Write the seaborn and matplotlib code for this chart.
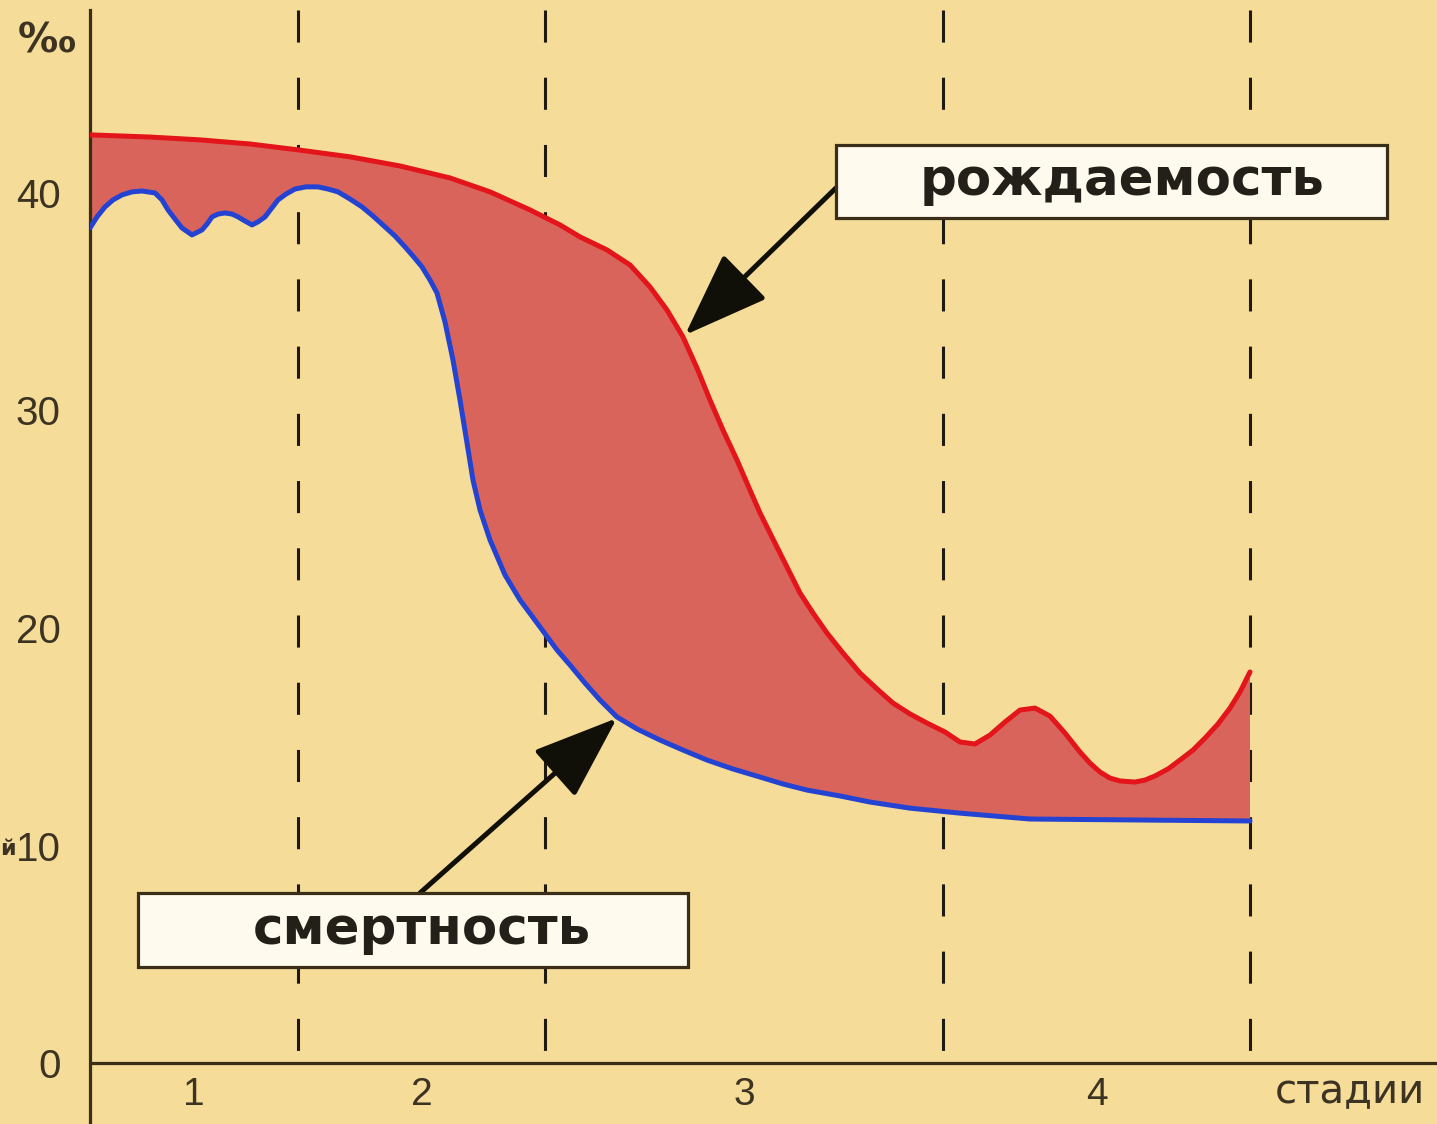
import numpy as np
import matplotlib
matplotlib.use("Agg")
import matplotlib.pyplot as plt
from matplotlib.patches import Rectangle, FancyArrowPatch
import seaborn as sns

# Birth rate curve (per mille) over time, arbitrary time units
birth_t = [0.00, 0.60, 1.10, 1.60, 2.08, 2.60, 3.10, 3.60, 4.00, 4.40, 4.70, 4.90,
           5.17, 5.40, 5.60, 5.77, 5.93, 6.07, 6.20, 6.33, 6.47, 6.60, 6.70, 6.87,
           7.10, 7.23, 7.37, 7.53, 7.70, 7.87, 8.03, 8.20, 8.37, 8.55, 8.70, 8.85,
           9.00, 9.15, 9.30, 9.45, 9.60, 9.75, 9.90, 10.00, 10.10, 10.20, 10.30,
           10.45, 10.55, 10.65, 10.78, 10.90, 11.03, 11.15, 11.28, 11.40, 11.50, 11.60]
birth_rate = [42.67, 42.57, 42.44, 42.25, 41.98, 41.66, 41.24, 40.69, 40.05, 39.22,
              38.53, 37.98, 37.38, 36.69, 35.68, 34.62, 33.38, 31.95, 30.48, 29.10,
              27.72, 26.34, 25.29, 23.72, 21.61, 20.69, 19.77, 18.85, 17.93, 17.20,
              16.55, 16.05, 15.63, 15.22, 14.76, 14.67, 15.08, 15.68, 16.23, 16.32,
              15.95, 15.17, 14.30, 13.79, 13.38, 13.10, 12.97, 12.92, 13.01, 13.20,
              13.52, 13.93, 14.39, 14.94, 15.59, 16.32, 17.06, 17.98]

# Death rate curve (per mille)
death_t = [0.00, 0.07, 0.15, 0.23, 0.32, 0.42, 0.52, 0.65, 0.72, 0.78, 0.85, 0.92,
           1.02, 1.12, 1.17, 1.22, 1.28, 1.35, 1.42, 1.48, 1.55, 1.62, 1.68, 1.75,
           1.81, 1.88, 1.96, 2.05, 2.16, 2.28, 2.38, 2.48, 2.60, 2.72, 2.83, 2.95,
           3.05, 3.15, 3.23, 3.32, 3.40, 3.47, 3.55, 3.63, 3.70, 3.77, 3.83, 3.90,
           4.00, 4.15, 4.30, 4.50, 4.67, 4.80, 4.95, 5.10, 5.27, 5.47, 5.70, 5.93,
           6.17, 6.43, 6.70, 6.93, 7.17, 7.50, 7.80, 8.20, 8.70, 9.40, 10.60, 11.60]
death_rate = [38.39, 38.90, 39.36, 39.68, 39.91, 40.05, 40.09, 40.00, 39.68, 39.22,
              38.80, 38.39, 38.07, 38.30, 38.57, 38.90, 39.03, 39.08, 39.03, 38.90,
              38.71, 38.53, 38.67, 38.90, 39.26, 39.68, 39.95, 40.18, 40.28, 40.28,
              40.18, 40.05, 39.72, 39.36, 38.94, 38.44, 38.02, 37.52, 37.10, 36.60,
              36.00, 35.40, 34.07, 32.32, 30.48, 28.51, 26.80, 25.43, 24.05, 22.44,
              21.29, 20.05, 18.99, 18.30, 17.47, 16.69, 15.91, 15.36, 14.85, 14.39,
              13.93, 13.52, 13.15, 12.83, 12.55, 12.28, 12.00, 11.72, 11.49, 11.22,
              11.17, 11.13]

# Boundaries between the demographic transition stages
stage_bounds = [0.00, 2.08, 4.55, 8.53, 11.60]
stage_labels = ["1", "2", "3", "4"]
y_ticks = [0, 10, 20, 30, 40]

BG = "#F5DC98"
INK = "#3A2E18"
TXT = "#3C3322"
RED = "#E3141A"
BLUE = "#2443D2"
FILL = "#D9645C"

sns.set_style("white")
plt.rcParams["font.family"] = ["DejaVu Sans"]

fig = plt.figure(figsize=(14.37, 11.24), dpi=100, facecolor=BG)
ax = fig.add_axes([90 / 1437, 0.0, 1 - 90 / 1437, 1 - 10 / 1124])
ax.set_facecolor(BG)
ax.set_xlim(0, 13.47)
ax.set_ylim(-2.80, 48.41)

# dashed stage separators
for b in stage_bounds[1:]:
    ax.plot([b, b], [48.41, 0], color="#1E1A12", lw=2.2,
            dashes=(10.5, 11.5), zorder=1, dash_capstyle="butt")

# natural increase area between the two curves
poly_x = np.concatenate([birth_t, death_t[::-1]])
poly_y = np.concatenate([birth_rate, death_rate[::-1]])
ax.fill(poly_x, poly_y, color=FILL, lw=0, zorder=2)

line_kw = dict(lw=3.6, estimator=None, sort=False, zorder=4,
               solid_joinstyle="round", solid_capstyle="round")
sns.lineplot(x=birth_t, y=birth_rate, ax=ax, color=RED, **line_kw)
sns.lineplot(x=death_t, y=death_rate, ax=ax, color=BLUE, **line_kw)

# axes
ax.axhline(0, color=INK, lw=2.3, zorder=5)
for side in ["top", "right", "bottom"]:
    ax.spines[side].set_visible(False)
ax.spines["left"].set_color(INK)
ax.spines["left"].set_linewidth(2.3)

ax.set_xticks([])
ax.set_yticks(y_ticks)
ax.set_yticklabels([str(v) for v in y_ticks])
ax.tick_params(axis="y", length=0, pad=21, labelsize=29, labelcolor=TXT)
for lbl in ax.get_yticklabels():
    lbl.set_family(["Liberation Sans", "DejaVu Sans"])
ax.grid(False)

# stage numbers under the axis
mids = [(stage_bounds[i] + stage_bounds[i + 1]) / 2 for i in range(4)]
for m, lab in zip(mids, stage_labels):
    ax.text(m, -0.64, lab, ha="center", va="top", fontsize=28,
            family=["Liberation Sans Narrow", "Liberation Sans", "DejaVu Sans"],
            color=TXT, clip_on=False)
ax.text(12.60, -1.35, "стадии", ha="center", va="center", fontsize=29,
        color=TXT, clip_on=False)

# units label and axis-title fragment at the left edge
ax.text(-0.43, 46.95, "‰", ha="center", va="center", fontsize=29,
        fontweight="bold", color=TXT, clip_on=False)
ax.text(-0.90, 9.85, "й", ha="left", va="center", fontsize=16,
        fontweight="bold", color=TXT, clip_on=False)

# labelled boxes with arrows
def label_box(x0, y0, x1, y1, text, tx):
    ax.add_patch(Rectangle((x0, y0), x1 - x0, y1 - y0, facecolor="#FFFAEE",
                           edgecolor=INK, lw=2.3, zorder=7))
    ax.text(tx, (y0 + y1) / 2, text, ha="center", va="center", fontsize=37,
            fontweight="bold", color="#222018", zorder=8)

def arrow(tail, tip):
    ax.add_patch(FancyArrowPatch(tail, tip,
                                 arrowstyle="-|>,head_length=1.9,head_width=0.7",
                                 mutation_scale=28, lw=3.6, color="#111008",
                                 shrinkA=0, shrinkB=0, zorder=6))

arrow((7.46, 40.23), (5.95, 33.47))
arrow((3.30, 7.82), (5.27, 15.86))
label_box(7.46, 38.85, 12.97, 42.21, "рождаемость", 10.32)
label_box(0.48, 4.41, 5.98, 7.82, "смертность", 3.32)

fig.savefig("out.png", dpi=100, facecolor=BG)
